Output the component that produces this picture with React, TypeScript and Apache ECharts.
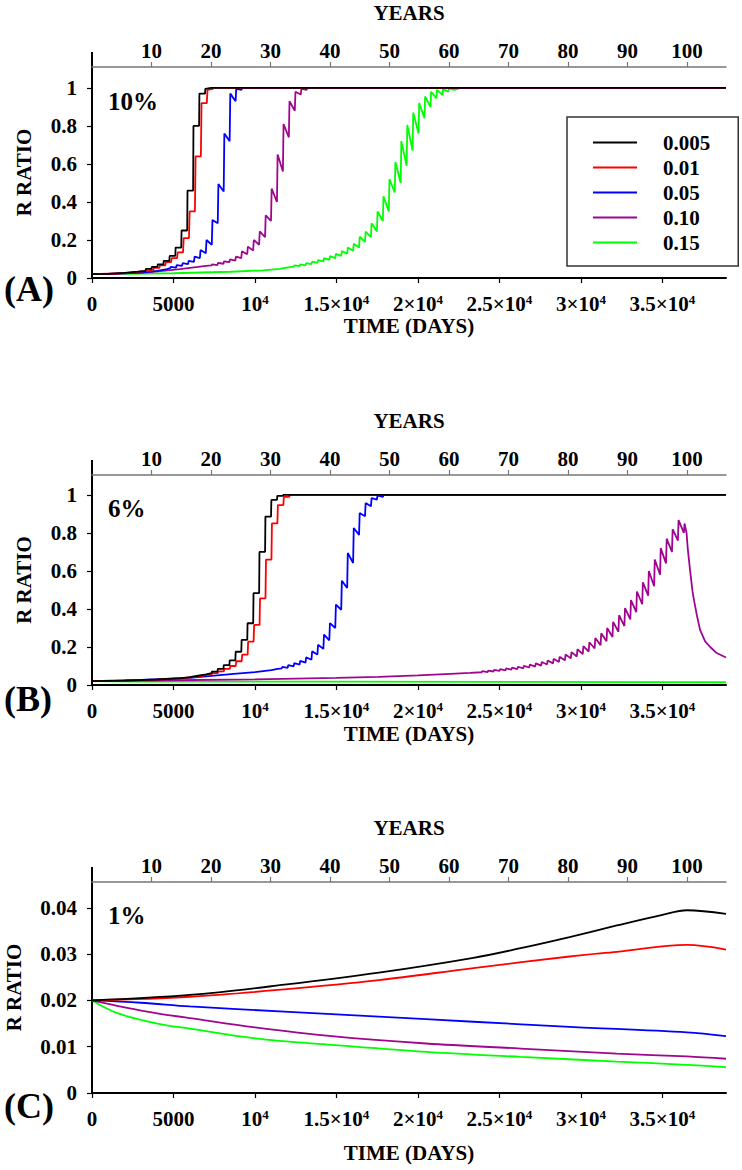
import React, { useEffect, useRef } from 'react';
import * as echarts from 'echarts';

const MAX_DAYS = 38900;
const DAYS_PER_YEAR = 365;

const seriesNames = ['0.005', '0.01', '0.05', '0.10', '0.15'];
const seriesColors = ['#000000', '#ff0000', '#0000ff', '#a0058f', '#00ff00'];

const dayTicks = [0, 5000, 10000, 15000, 20000, 25000, 30000, 35000];
const dayTickMantissa = ['0', '5000', '10', '1.5×10', '2×10', '2.5×10', '3×10', '3.5×10'];
const dayTickExponent = ['', '', '4', '4', '4', '4', '4', '4'];

const yearTicks = [10, 20, 30, 40, 50, 60, 70, 80, 90, 100];
const yearTickLabels = ['10', '20', '30', '40', '50', '60', '70', '80', '90', '100'];

const ratioTicksAB = [0, 0.2, 0.4, 0.6, 0.8, 1];
const ratioLabelsAB = ['0', '0.2', '0.4', '0.6', '0.8', '1'];
const ratioTicksC = [0, 0.01, 0.02, 0.03, 0.04];
const ratioLabelsC = ['0', '0.01', '0.02', '0.03', '0.04'];

const panelLetters = ['(A)', '(B)', '(C)'];
const panelPercents = ['10%', '6%', '1%'];

// ---------- Panel A (10%) ----------
const A_0005: [number, number][] = [
  [0, 0.02], [1000, 0.022], [2000, 0.027], [2800, 0.033], [3285, 0.038], [3305, 0.048], [3650, 0.048],
  [3670, 0.058], [4015, 0.058], [4035, 0.072], [4380, 0.072], [4400, 0.09], [4745, 0.09], [4765, 0.116],
  [5110, 0.116], [5130, 0.16], [5475, 0.16], [5495, 0.25], [5840, 0.25], [5860, 0.46], [6205, 0.46],
  [6225, 0.8], [6570, 0.8], [6590, 0.97], [6935, 0.97], [6955, 0.995], [7300, 1], [38900, 1],
];
const A_001: [number, number][] = [
  [0, 0.02], [1000, 0.022], [2000, 0.026], [2800, 0.032], [3400, 0.038], [3760, 0.044], [3800, 0.053],
  [4125, 0.053], [4165, 0.066], [4490, 0.066], [4530, 0.083], [4855, 0.083], [4895, 0.105], [5220, 0.105],
  [5260, 0.135], [5585, 0.135], [5625, 0.21], [5950, 0.21], [5990, 0.35], [6315, 0.35], [6355, 0.64],
  [6680, 0.64], [6720, 0.92], [7045, 0.92], [7085, 0.99], [7410, 0.995], [7450, 1], [38900, 1],
];
const A_005: [number, number][] = [
  [0, 0.02], [1500, 0.023], [3000, 0.029], [4000, 0.037], [4600, 0.047], [4795, 0.052], [4835, 0.058],
  [5160, 0.055], [5200, 0.068], [5525, 0.064], [5565, 0.078], [5890, 0.073], [5930, 0.09], [6255, 0.085],
  [6295, 0.112], [6620, 0.105], [6660, 0.147], [6985, 0.13], [7025, 0.2], [7350, 0.175], [7390, 0.305],
  [7715, 0.288], [7755, 0.495], [8080, 0.455], [8120, 0.76], [8445, 0.72], [8485, 0.97], [8810, 0.93],
  [8850, 0.995], [9175, 0.99], [9215, 1], [38900, 1],
];
const A_010: [number, number][] = [
  [0, 0.02], [2000, 0.025], [3400, 0.03], [5400, 0.047], [6500, 0.058], [7000, 0.064], [7333, 0.066],
  [7373, 0.072], [7698, 0.068], [7738, 0.08], [8063, 0.075], [8103, 0.088], [8428, 0.083], [8468, 0.098],
  [8793, 0.092], [8833, 0.112], [9158, 0.104], [9198, 0.14], [9523, 0.125], [9563, 0.165], [9888, 0.145],
  [9928, 0.2], [10253, 0.175], [10293, 0.245], [10618, 0.215], [10658, 0.33], [10983, 0.3], [11023, 0.47],
  [11348, 0.4], [11388, 0.65], [11713, 0.56], [11753, 0.81], [12078, 0.74], [12118, 0.93], [12443, 0.88],
  [12483, 0.98], [12808, 0.965], [12848, 0.995], [13173, 0.99], [13213, 1], [38900, 1],
];
const A_015: [number, number][] = [
  [0, 0.02], [5000, 0.025], [8500, 0.033], [10500, 0.04], [11500, 0.048], [12050, 0.056], [12370, 0.06],
  [12410, 0.066], [12735, 0.062], [12775, 0.072], [13100, 0.067], [13140, 0.078], [13465, 0.073],
  [13505, 0.086], [13830, 0.08], [13870, 0.094], [14195, 0.087], [14235, 0.104], [14560, 0.095],
  [14600, 0.115], [14925, 0.105], [14965, 0.127], [15290, 0.116], [15330, 0.142], [15655, 0.128],
  [15695, 0.16], [16020, 0.143], [16060, 0.18], [16385, 0.16], [16425, 0.217], [16750, 0.19],
  [16790, 0.244], [17115, 0.215], [17155, 0.288], [17480, 0.245], [17520, 0.35], [17845, 0.3],
  [17885, 0.43], [18210, 0.35], [18250, 0.52], [18575, 0.45], [18615, 0.61], [18940, 0.5],
  [18980, 0.72], [19305, 0.59], [19345, 0.805], [19670, 0.67], [19710, 0.87], [20035, 0.76],
  [20075, 0.92], [20400, 0.84], [20440, 0.955], [20765, 0.9], [20805, 0.98], [21130, 0.946],
  [21170, 0.99], [21495, 0.963], [21535, 0.995], [21860, 0.98], [21900, 0.998], [22225, 0.99],
  [22630, 1], [38900, 1],
];

// ---------- Panel B (6%) ----------
const B_0005: [number, number][] = [
  [0, 0.02], [2000, 0.023], [4000, 0.029], [5500, 0.036], [6000, 0.041], [6600, 0.05], [7000, 0.056],
  [7335, 0.062], [7355, 0.07], [7700, 0.07], [7720, 0.085], [8065, 0.085], [8085, 0.105], [8430, 0.105],
  [8450, 0.13], [8795, 0.13], [8815, 0.175], [9160, 0.175], [9180, 0.237], [9525, 0.237], [9545, 0.325],
  [9890, 0.325], [9910, 0.483], [10255, 0.483], [10275, 0.7], [10620, 0.7], [10640, 0.886], [10985, 0.886],
  [11005, 0.974], [11350, 0.974], [11370, 0.995], [11715, 0.995], [11735, 1], [38900, 1],
];
const B_001: [number, number][] = [
  [0, 0.02], [2000, 0.023], [4000, 0.028], [5500, 0.035], [6600, 0.046], [7000, 0.052], [7360, 0.057],
  [7390, 0.063], [7725, 0.063], [7755, 0.072], [8090, 0.072], [8120, 0.085], [8455, 0.085], [8485, 0.1],
  [8820, 0.1], [8850, 0.125], [9185, 0.125], [9215, 0.16], [9550, 0.16], [9580, 0.228], [9915, 0.228],
  [9945, 0.316], [10280, 0.316], [10310, 0.456], [10645, 0.456], [10675, 0.66], [11010, 0.66],
  [11040, 0.85], [11375, 0.85], [11405, 0.947], [11740, 0.947], [11770, 0.99], [12105, 0.99],
  [12135, 1], [38900, 1],
];
const B_005: [number, number][] = [
  [0, 0.02], [3000, 0.027], [6000, 0.037], [8700, 0.058], [10000, 0.068], [11000, 0.078], [11400, 0.085],
  [11640, 0.088], [11680, 0.095], [12005, 0.09], [12045, 0.105], [12370, 0.098], [12410, 0.115],
  [12735, 0.107], [12775, 0.127], [13100, 0.118], [13140, 0.145], [13465, 0.133], [13505, 0.177],
  [13830, 0.16], [13870, 0.212], [14195, 0.19], [14235, 0.265], [14560, 0.235], [14600, 0.326],
  [14925, 0.3], [14965, 0.423], [15290, 0.396], [15330, 0.549], [15655, 0.51], [15695, 0.695],
  [16020, 0.642], [16060, 0.826], [16385, 0.79], [16425, 0.905], [16750, 0.888], [16790, 0.958],
  [17115, 0.94], [17155, 0.984], [17480, 0.975], [17520, 0.998], [17845, 0.99], [17885, 1], [38900, 1],
];
const B_010: [number, number][] = [
  [0, 0.02], [5000, 0.025], [10000, 0.03], [15000, 0.037], [17600, 0.043], [20000, 0.051], [22000, 0.059],
  [23200, 0.064], [23905, 0.067], [23945, 0.073], [24270, 0.068], [24310, 0.076], [24635, 0.071],
  [24675, 0.08], [25000, 0.074], [25040, 0.083], [25365, 0.077], [25405, 0.087], [25730, 0.081],
  [25770, 0.091], [26095, 0.084], [26135, 0.096], [26460, 0.088], [26500, 0.101], [26825, 0.092],
  [26865, 0.107], [27190, 0.097], [27230, 0.114], [27555, 0.102], [27595, 0.121], [27920, 0.108],
  [27960, 0.129], [28285, 0.114], [28325, 0.138], [28650, 0.121], [28690, 0.148], [29015, 0.13],
  [29055, 0.16], [29380, 0.14], [29420, 0.173], [29745, 0.15], [29785, 0.188], [30110, 0.162],
  [30150, 0.205], [30475, 0.176], [30515, 0.225], [30840, 0.192], [30880, 0.247], [31205, 0.21],
  [31245, 0.272], [31570, 0.23], [31610, 0.3], [31935, 0.253], [31975, 0.332], [32300, 0.28],
  [32340, 0.367], [32665, 0.31], [32705, 0.405], [33030, 0.345], [33070, 0.447], [33395, 0.383],
  [33435, 0.492], [33760, 0.425], [33800, 0.54], [34125, 0.47], [34165, 0.6], [34490, 0.52],
  [34530, 0.66], [34855, 0.58], [34895, 0.72], [35220, 0.64], [35260, 0.77], [35585, 0.7],
  [35625, 0.82], [35950, 0.76], [35990, 0.868], [36315, 0.8], [36355, 0.85], [36480, 0.8],
  [36550, 0.72], [36700, 0.6], [36850, 0.49], [36950, 0.44], [37130, 0.36], [37310, 0.29],
  [37620, 0.23], [37930, 0.2], [38300, 0.17], [38900, 0.145],
];
const B_015: [number, number][] = [
  [0, 0.02], [3000, 0.0185], [8000, 0.018], [15000, 0.0175], [25000, 0.0165], [35000, 0.0155], [38900, 0.0145],
];

// ---------- Panel C (1%) ----------
const C_0005: [number, number][] = [
  [0, 0.02], [6000, 0.0212], [11800, 0.0234], [17600, 0.026], [23400, 0.0292], [26300, 0.0313],
  [29300, 0.0337], [32200, 0.0362], [35000, 0.0385], [36500, 0.0395], [38900, 0.0387],
];
const C_001: [number, number][] = [
  [0, 0.02], [6000, 0.0208], [11800, 0.0224], [17600, 0.0244], [23400, 0.027], [29300, 0.0295],
  [32200, 0.0305], [36500, 0.032], [38900, 0.031],
];
const C_005: [number, number][] = [
  [0, 0.02], [3000, 0.0195], [6000, 0.0187], [11800, 0.0176], [17600, 0.0165], [23400, 0.0154],
  [29300, 0.0143], [36500, 0.0131], [38900, 0.0123],
];
const C_010: [number, number][] = [
  [0, 0.02], [2000, 0.0185], [4000, 0.0172], [6000, 0.0162], [10000, 0.0142], [14700, 0.0123],
  [20500, 0.0107], [26300, 0.0096], [32200, 0.0085], [36500, 0.0079], [38900, 0.0074],
];
const C_015: [number, number][] = [
  [0, 0.02], [1600, 0.0172], [4000, 0.015], [6000, 0.0139], [10000, 0.0118], [14700, 0.0104],
  [20500, 0.0089], [26300, 0.0078], [32200, 0.0068], [36500, 0.0061], [38900, 0.0056],
];

const panelData = [
  [A_0005, A_001, A_005, A_010, A_015],
  [B_0005, B_001, B_005, B_010, B_015],
  [C_0005, C_001, C_005, C_010, C_015],
];

const SERIF = 'serif';

const layout = [
  { top: 67, height: 211, yMax: 1.11, yTicks: ratioTicksAB, yLabels: ratioLabelsAB, nameGapY: 58, nameGapX: 37, letterY: 289, pctY: 101, smooth: false },
  { top: 475, height: 210, yMax: 1.105, yTicks: ratioTicksAB, yLabels: ratioLabelsAB, nameGapY: 58, nameGapX: 38, letterY: 699, pctY: 508, smooth: false },
  { top: 882, height: 211, yMax: 0.0456, yTicks: ratioTicksC, yLabels: ratioLabelsC, nameGapY: 68, nameGapX: 49, letterY: 1106, pctY: 915, smooth: true },
];

const GRID_LEFT = 92;
const GRID_WIDTH = 634;

function buildOption() {
  const grid: any[] = [];
  const xAxis: any[] = [];
  const yAxis: any[] = [];
  const series: any[] = [];
  const graphic: any[] = [];

  layout.forEach((p, i) => {
    grid.push({ left: GRID_LEFT, width: GRID_WIDTH, top: p.top, height: p.height, containLabel: false, outerBoundsMode: 'none' });

    xAxis.push({
      type: 'value', gridIndex: i, position: 'bottom', min: 0, max: MAX_DAYS,
      axisLine: { show: true, onZero: false, lineStyle: { color: '#000', width: 2 } },
      axisTick: { show: true, length: 5, customValues: dayTicks, lineStyle: { color: '#000', width: 1.2 } },
      axisLabel: {
        customValues: dayTicks, margin: 15,
        fontFamily: SERIF, fontWeight: 'bold', fontSize: 21, color: '#000',
        formatter: (v: number) => {
          const k = dayTicks.indexOf(v);
          if (k < 0) return '';
          return dayTickExponent[k] ? `{n|${dayTickMantissa[k]}}{s|${dayTickExponent[k]}}` : `{n|${dayTickMantissa[k]}}`;
        },
        rich: {
          n: { fontFamily: SERIF, fontWeight: 'bold', fontSize: 21, color: '#000' },
          s: { fontFamily: SERIF, fontWeight: 'bold', fontSize: 13, color: '#000', verticalAlign: 'top' },
        },
      },
      splitLine: { show: false },
      name: 'TIME (DAYS)', nameLocation: 'middle', nameGap: p.nameGapX,
      nameTextStyle: { fontFamily: SERIF, fontWeight: 'bold', fontSize: 21, color: '#000' },
    });
    xAxis.push({
      type: 'value', gridIndex: i, position: 'top', min: 0, max: MAX_DAYS / DAYS_PER_YEAR,
      axisLine: { show: true, onZero: false, lineStyle: { color: '#777', width: 1.5 } },
      axisTick: { show: true, length: 5, customValues: yearTicks, lineStyle: { color: '#777', width: 1.2 } },
      axisLabel: {
        customValues: yearTicks, margin: 6,
        fontFamily: SERIF, fontWeight: 'bold', fontSize: 21, color: '#000',
        formatter: (v: number) => {
          const k = yearTicks.indexOf(v);
          return k < 0 ? '' : yearTickLabels[k];
        },
      },
      splitLine: { show: false },
      name: 'YEARS', nameLocation: 'middle', nameGap: 44,
      nameTextStyle: { fontFamily: SERIF, fontWeight: 'bold', fontSize: 21, color: '#000' },
    });
    yAxis.push({
      type: 'value', gridIndex: i, min: 0, max: p.yMax,
      axisLine: { show: true, onZero: false, lineStyle: { color: '#000', width: 2 } },
      axisTick: { show: true, length: 5, customValues: p.yTicks, lineStyle: { color: '#000', width: 1.2 } },
      axisLabel: {
        customValues: p.yTicks, margin: 15,
        fontFamily: SERIF, fontWeight: 'bold', fontSize: 21, color: '#000',
        formatter: (v: number) => {
          const k = p.yTicks.findIndex((t) => Math.abs(t - v) < 1e-9);
          return k < 0 ? '' : p.yLabels[k];
        },
      },
      splitLine: { show: false },
      name: 'R RATIO', nameLocation: 'middle', nameRotate: 90, nameGap: p.nameGapY,
      nameTextStyle: { fontFamily: SERIF, fontWeight: 'bold', fontSize: 21, color: '#000' },
    });

    for (let k = seriesNames.length - 1; k >= 0; k--) {
      series.push({
        type: 'line', name: seriesNames[k], xAxisIndex: 2 * i, yAxisIndex: i,
        data: panelData[i][k], symbol: 'none', showSymbol: false,
        smooth: p.smooth ? 0.35 : false,
        lineStyle: { color: seriesColors[k], width: 1.8 },
        itemStyle: { color: seriesColors[k] },
        z: 3 + (seriesNames.length - k),
      });
    }

    graphic.push({
      type: 'line', shape: { x1: GRID_LEFT, y1: p.top - 15, x2: GRID_LEFT, y2: p.top },
      style: { stroke: '#000', lineWidth: 2 },
    });
    graphic.push({
      type: 'text', x: 4, y: p.letterY,
      style: { text: panelLetters[i], fontFamily: SERIF, fontWeight: 'bold', fontSize: 36, fill: '#000', verticalAlign: 'middle' },
    });
    graphic.push({
      type: 'text', x: 108, y: p.pctY,
      style: { text: panelPercents[i], fontFamily: SERIF, fontWeight: 'bold', fontSize: 25, fill: '#000', verticalAlign: 'middle' },
    });
  });

  return {
    animation: false,
    backgroundColor: '#ffffff',
    grid, xAxis, yAxis, series, graphic,
    legend: {
      data: seriesNames, orient: 'vertical', left: 567, top: 117,
      icon: 'rect', itemWidth: 44, itemHeight: 2, itemGap: 4,
      padding: [15, 28, 13, 26],
      borderColor: '#333', borderWidth: 1.5, backgroundColor: '#fff',
      selectedMode: false,
      textStyle: { fontFamily: SERIF, fontWeight: 'bold', fontSize: 21, color: '#000', lineHeight: 21, padding: [0, 0, 0, 21] },
    },
  };
}

export default function App() {
  const ref = useRef<HTMLDivElement>(null);
  useEffect(() => {
    if (!ref.current) return;
    const chart = echarts.init(ref.current, undefined, { renderer: 'svg' });
    chart.setOption(buildOption() as any);
    return () => chart.dispose();
  }, []);
  return <div ref={ref} style={{ position: 'absolute', left: 0, top: 0, width: 742, height: 1170 }} />;
}
